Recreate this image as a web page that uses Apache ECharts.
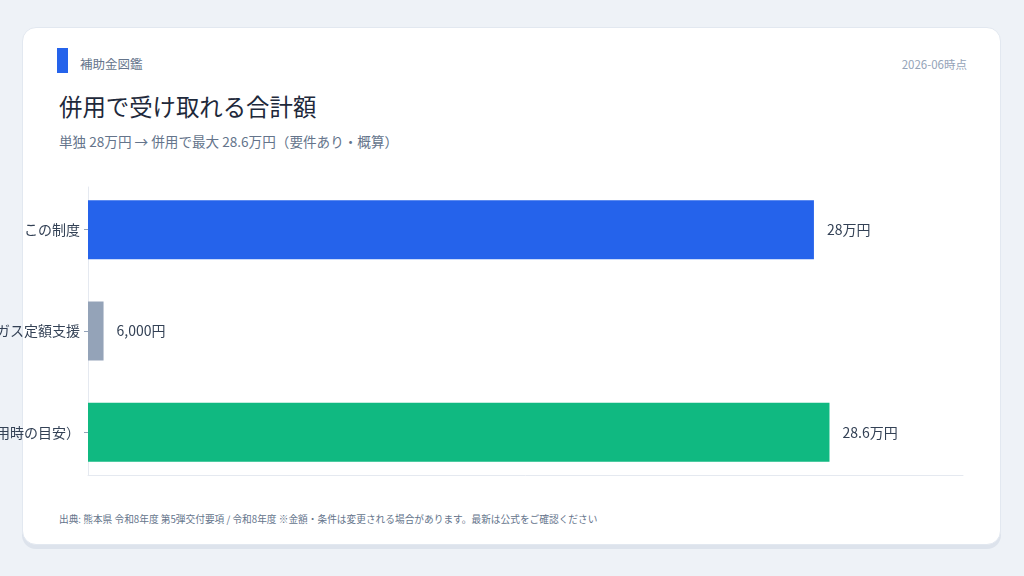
<!DOCTYPE html>
<html>
<head>
<meta charset="utf-8">
<script src="https://cdn.jsdelivr.net/npm/echarts@6/dist/echarts.min.js"></script>
<style>
html,body{margin:0;padding:0;width:1024px;height:576px;overflow:hidden;background:#eef2f7;font-family:"Noto Sans CJK JP","Noto Sans",sans-serif;}
.card{position:absolute;left:22px;top:27px;width:979px;height:518px;background:#fff;border-radius:14px;border:1px solid #e2e8f0;box-sizing:border-box;box-shadow:0 4px 0 #dde3ec;}
.accent{position:absolute;left:57px;top:48px;width:11px;height:25px;background:#2563eb;}
.brand{position:absolute;left:80px;top:55px;font-size:12.5px;color:#64748b;line-height:18px;}
.date{position:absolute;right:57px;top:55px;font-size:11.5px;color:#94a3b8;line-height:18px;}
.title{position:absolute;left:59px;top:90px;font-size:23.4px;color:#1e293b;line-height:32px;}
.sub{position:absolute;left:59px;top:131px;font-size:13.6px;color:#64748b;line-height:20px;}
.foot{position:absolute;left:59px;top:512px;font-size:9.7px;color:#64748b;line-height:14px;}
#chart{position:absolute;left:0;top:0;width:1024px;height:576px;}
</style>
</head>
<body>
<div class="card"></div>
<div class="accent"></div>
<div class="brand">補助金図鑑</div>
<div class="date">2026-06時点</div>
<div class="title">併用で受け取れる合計額</div>
<div class="sub">単独 28万円 → 併用で最大 28.6万円（要件あり・概算）</div>
<div class="foot">出典: 熊本県 令和8年度 第5弾交付要項 / 令和8年度 ※金額・条件は変更される場合があります。最新は公式をご確認ください</div>
<div id="chart"></div>
<script>
var categories = ['この制度', 'LPガス定額支援', '合計（併用時の目安）'];
var values = [28, 0.6, 28.6]; // 万円
var valueLabels = ['28万円', '6,000円', '28.6万円'];
var barColors = ['#2563eb', '#94a3b8', '#10b981'];
var xMax = 33.75;

var myChart = echarts.init(document.getElementById('chart'), null, {renderer: 'canvas'});
var option = {
    backgroundColor: 'transparent',
    animation: false,
    grid: [
        // bars
        {left: 88, right: 61, top: 179, bottom: 93, outerBoundsMode: 'none', containLabel: false},
        // axis frame lines
        {left: 88, right: 61, top: 187, bottom: 101, outerBoundsMode: 'none', containLabel: false}
    ],
    xAxis: [{
        gridIndex: 0,
        type: 'value',
        min: 0,
        max: xMax,
        show: false
    }, {
        gridIndex: 1,
        type: 'value',
        min: 0,
        max: xMax,
        axisLabel: {show: false},
        splitLine: {show: false},
        axisTick: {show: false},
        axisLine: {show: true, lineStyle: {color: '#e5e9f0', width: 1}}
    }],
    yAxis: [{
        gridIndex: 0,
        type: 'category',
        inverse: true,
        data: categories,
        axisLine: {show: false},
        axisTick: {show: true, alignWithLabel: true, length: 4, lineStyle: {color: '#94a3b8'}},
        axisLabel: {
            color: '#334155',
            fontSize: 14,
            margin: 8,
            fontFamily: '"Noto Sans CJK JP", sans-serif'
        }
    }, {
        gridIndex: 1,
        type: 'value',
        axisLabel: {show: false},
        splitLine: {show: false},
        axisTick: {show: false},
        axisLine: {show: true, lineStyle: {color: '#e5e9f0', width: 1}}
    }],
    series: [{
        type: 'bar',
        xAxisIndex: 0,
        yAxisIndex: 0,
        barWidth: 59,
        data: values.map(function (v, i) {
            return {value: v, itemStyle: {color: barColors[i]}};
        }),
        label: {
            show: true,
            position: 'right',
            distance: 13,
            color: '#334155',
            fontSize: 14,
            fontFamily: '"Noto Sans CJK JP", sans-serif',
            formatter: function (p) { return valueLabels[p.dataIndex]; }
        }
    }]
};
myChart.setOption(option);
</script>
</body>
</html>
